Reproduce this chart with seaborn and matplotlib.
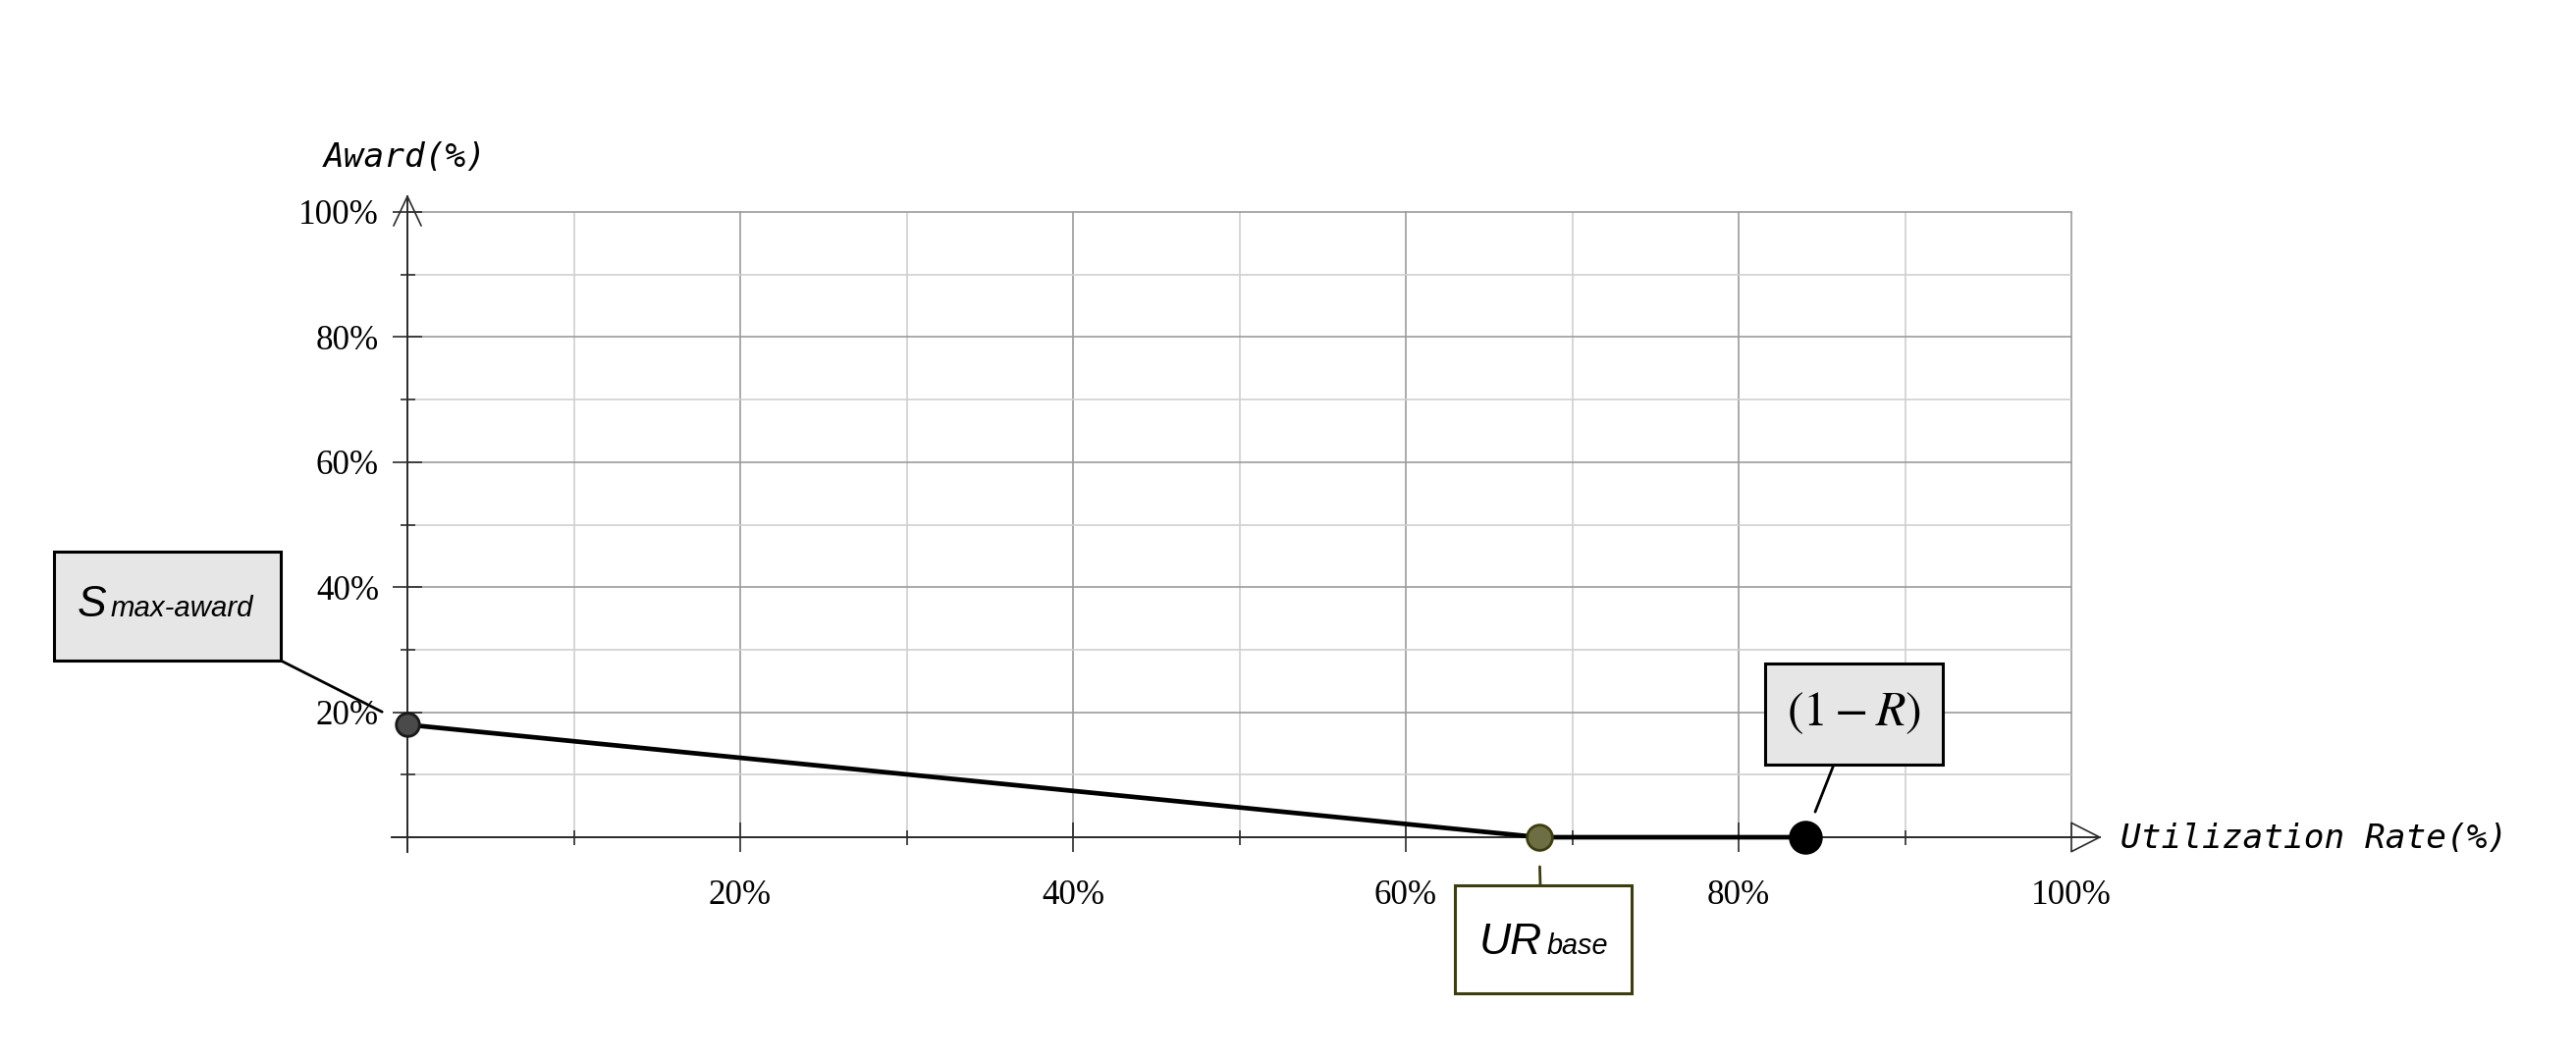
import numpy as np
import pandas as pd
import matplotlib
matplotlib.use("Agg")
import matplotlib.pyplot as plt
from matplotlib.ticker import MultipleLocator, FuncFormatter
from matplotlib.patches import Rectangle
import seaborn as sns

# ---------------- data ----------------
utilization = [0, 68, 84]          # x values (%)
award = [18, 0, 0]                 # y values (%)
point_names = ["S_max-award", "UR_base", "(1-R)"]
point_fill = ["#4a4a4a", "#6e6e45", "#000000"]
point_edge = ["#1a1a1a", "#3d3d10", "#000000"]
point_size = [72, 86, 130]
tick_values = [20, 40, 60, 80, 100]
tick_labels = ["20%", "40%", "60%", "80%", "100%"]

sns.set_style("white")
plt.rcParams["font.family"] = ["Liberation Serif", "DejaVu Sans"]
plt.rcParams["mathtext.fontset"] = "stix"

W, H, DPI = 2624, 1082, 200
fig = plt.figure(figsize=(W / DPI, H / DPI), dpi=DPI)
ax = fig.add_axes([415 / W, 1 - 853 / H, (2110 - 415) / W, (853 - 216) / H])

df = pd.DataFrame({"x": utilization, "y": award, "name": point_names})

AX_COL = "#2b2b2b"
# grid
ax.set_xlim(0, 100)
ax.set_ylim(0, 100)
ax.xaxis.set_major_locator(MultipleLocator(20))
ax.xaxis.set_minor_locator(MultipleLocator(10))
ax.yaxis.set_major_locator(MultipleLocator(20))
ax.yaxis.set_minor_locator(MultipleLocator(10))
lab = dict(zip(tick_values, tick_labels))
fmt = FuncFormatter(lambda v, p: lab.get(int(round(v)), ""))
ax.xaxis.set_major_formatter(fmt)
ax.yaxis.set_major_formatter(fmt)
ax.grid(True, which="major", color="#9c9c9c", lw=0.6, zorder=0)
ax.grid(True, which="minor", color="#d0d0d0", lw=0.6, zorder=0)
for gl in ax.get_xgridlines() + ax.get_ygridlines():
    gl.set_clip_on(False)
ax.set_axisbelow(True)

# spines as axes with arrows
for s in ["top", "right"]:
    ax.spines[s].set_visible(False)
ax.spines["left"].set_bounds(-2.4, 102.5)
ax.spines["bottom"].set_bounds(-0.94, 101.7)
for s in ["left", "bottom"]:
    ax.spines[s].set_color(AX_COL)
    ax.spines[s].set_linewidth(0.7)
ax.plot([-0.83, 0, 0.83], [97.8, 102.5, 97.8], color=AX_COL, lw=0.6, clip_on=False)
ax.plot([100, 101.7, 100], [2.3, 0, -2.3], color=AX_COL, lw=0.6, clip_on=False)

ax.tick_params(axis="both", which="both", bottom=True, left=True, top=False, right=False)
ax.tick_params(axis="both", which="major", direction="inout", length=10.8,
               width=0.6, color=AX_COL, labelsize=12.6, labelcolor="black")
ax.tick_params(axis="both", which="minor", direction="inout", length=5.4,
               width=0.6, color=AX_COL)
ax.tick_params(axis="x", which="major", pad=10)
ax.tick_params(axis="y", which="major", pad=5)

# data line and points
sns.lineplot(data=df, x="x", y="y", ax=ax, color="black", lw=1.7,
             sort=False, estimator=None, zorder=3, clip_on=False)
for i in range(len(df)):
    sns.scatterplot(x=[utilization[i]], y=[award[i]], ax=ax, s=point_size[i],
                    color=point_fill[i], edgecolor=point_edge[i], linewidth=1.0,
                    zorder=4, clip_on=False)
ax.set_xlabel("")
ax.set_ylabel("")

# axis titles
mono = dict(family="DejaVu Sans Mono", style="oblique", size=12.4, color="black")
fig.text(330 / W, 1 - 161 / H, "Award(%)", ha="left", va="center", **mono)
fig.text(2160 / W, 1 - 854 / H, "Utilization Rate(%)", ha="left", va="center", **mono)


def fx(x):
    return x / W


def fy(y):
    return 1 - y / H


def box(x0, y0, x1, y1, fc, ec):
    fig.patches.append(Rectangle((fx(x0), fy(y1)), fx(x1) - fx(x0), fy(y0) - fy(y1),
                                 transform=fig.transFigure, facecolor=fc,
                                 edgecolor=ec, lw=1.1, zorder=5))


def leader(i, sx, sy, shrink, col):
    ax.annotate("", xy=(utilization[i], award[i]), xycoords="data",
                xytext=(fx(sx), fy(sy)), textcoords="figure fraction",
                arrowprops=dict(arrowstyle="-", color=col, lw=1.0,
                                shrinkA=0, shrinkB=shrink), zorder=5)


sans = dict(family="Liberation Sans", style="italic", color="black", zorder=10)
# S max-award
box(55, 562, 286, 673, "#e6e6e6", "black")
leader(0, 286, 673, 10.4, "black")
fig.text(fx(79), fy(628), "S", ha="left", va="baseline", size=16, **sans)
fig.text(fx(113), fy(628), "max-award", ha="left", va="baseline", size=10.6, **sans)

# UR base
box(1482, 902, 1662, 1012, "white", "#3d3d10")
leader(1, 1569, 902, 10.8, "#3d3d10")
fig.text(fx(1507), fy(972), "UR", ha="left", va="baseline", size=16, **sans)
fig.text(fx(1576), fy(972), "base", ha="left", va="baseline", size=10.4, **sans)

# (1 - R)
box(1798, 676, 1979, 779, "#e6e6e6", "black")
leader(2, 1868, 779, 10.0, "black")
fig.text(fx(1889), fy(727), r"$(1-R)$", ha="center", va="center", size=18,
         color="black", zorder=10)

fig.savefig("out.png", dpi=DPI, facecolor="white")
